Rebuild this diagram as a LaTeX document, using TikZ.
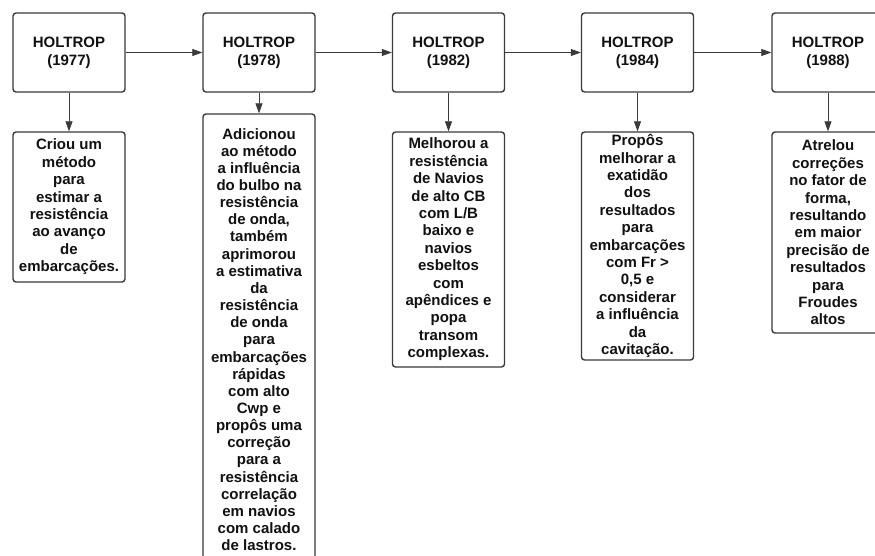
\documentclass[tikz,border=0pt]{standalone}
\usepackage{fontspec}
\setmainfont{Liberation Sans}
\usetikzlibrary{arrows.meta}
\definecolor{edge}{HTML}{3A3A3A}
\definecolor{ink}{HTML}{111111}
\tikzset{
  yearbox/.style={draw=edge, line width=1.4pt, rounded corners=3pt, fill=white,
    minimum width=112pt, minimum height=79pt, inner sep=0pt, align=center,
    text=ink, font=\bfseries\fontsize{15}{18}\selectfont},
  descbox/.style={draw=edge, line width=1.4pt, rounded corners=3pt, fill=white,
    minimum width=112pt, inner sep=0pt, align=center,
    text=ink, font=\bfseries\fontsize{15}{17.4}\selectfont},
  link/.style={draw=edge, line width=0.8pt, -{Triangle[length=10pt,width=7pt]}}
}
\begin{document}
\begin{tikzpicture}[x=1pt,y=-1pt]
\clip (0,0) rectangle (875,556);
\fill[white] (0,0) rectangle (875,556);
% year boxes
\node[yearbox] (y1) at (69,52.5) {HOLTROP\\(1977)};
\node[yearbox] (y2) at (259,52.5) {HOLTROP\\(1978)};
\node[yearbox] (y3) at (448.5,52.5) {HOLTROP\\(1982)};
\node[yearbox] (y4) at (637.5,52.5) {HOLTROP\\(1984)};
\node[yearbox] (y5) at (828,52.5) {HOLTROP\\(1988)};
% description boxes
\node[descbox, minimum height=150pt] (d1) at (69,207) {Criou um\\método\\para\\estimar a\\resistência\\ao avanço\\de\\embarcações.};
\node[descbox, minimum height=451pt, font=\bfseries\fontsize{15}{17.15}\selectfont] (d2) at (259,339.5) {Adicionou\\ao método\\a influência\\do bulbo na\\resistência\\de onda,\\também\\aprimorou\\a estimativa\\da\\resistência\\de onda\\para\\embarcações\\rápidas\\com alto\\Cwp e\\propôs uma\\correção\\para a\\resistência\\correlação\\em navios\\com calado\\de lastros.};
\node[descbox, minimum height=235pt] (d3) at (448.5,249.5) {Melhorou a\\resistência\\de Navios\\de alto CB\\com L/B\\baixo e\\navios\\esbeltos\\com\\apêndices e\\popa\\transom\\complexas.};
\node[descbox, minimum height=228pt] (d4) at (637.5,246) {Propôs\\melhorar a\\exatidão\\dos\\resultados\\para\\embarcações\\com Fr >\\0,5 e\\considerar\\a influência\\da\\cavitação.};
\node[descbox, minimum height=201pt] (d5) at (828,232.5) {Atrelou\\correções\\no fator de\\forma,\\resultando\\em maior\\precisão de\\resultados\\para\\Froudes\\altos};
% connectors
\draw[link] (y1) -- (y2);
\draw[link] (y2) -- (y3);
\draw[link] (y3) -- (y4);
\draw[link] (y4) -- (y5);
\draw[link] (y1) -- (d1);
\draw[link] (y2) -- (d2);
\draw[link] (y3) -- (d3);
\draw[link] (y4) -- (d4);
\draw[link] (y5) -- (d5);
\end{tikzpicture}
\end{document}
